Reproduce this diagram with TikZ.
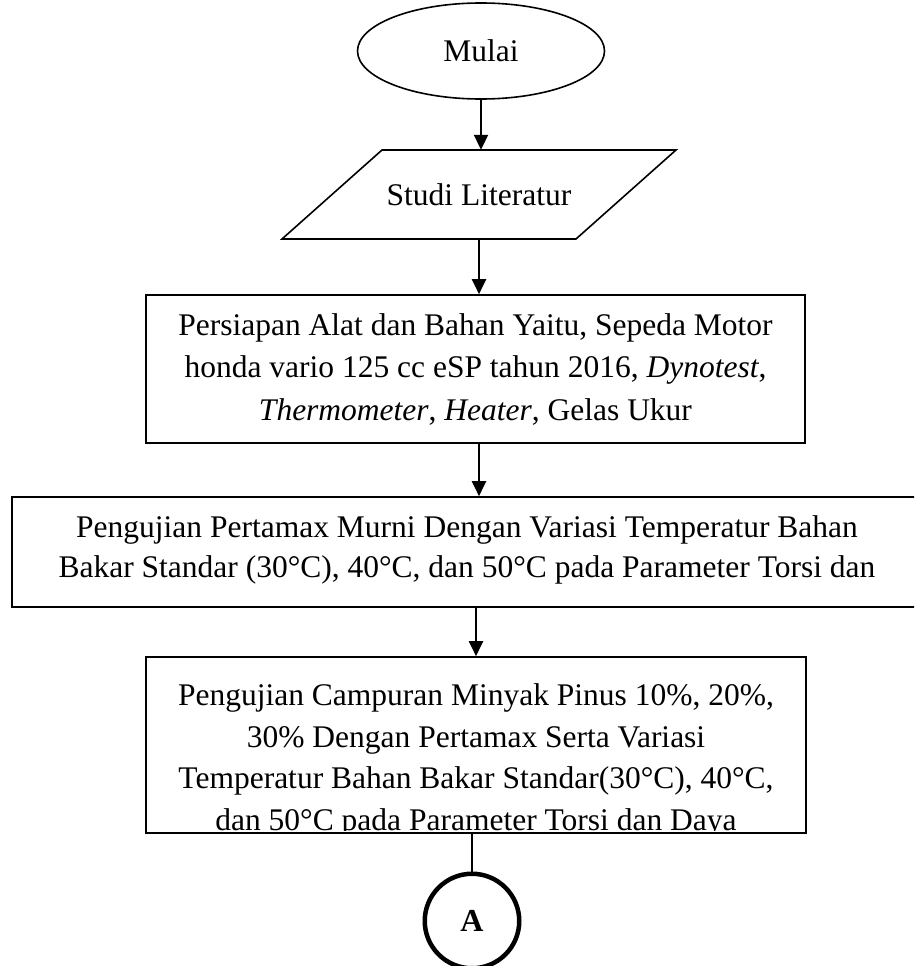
\documentclass[tikz,border=0pt]{standalone}
\usepackage{fontspec}
\setmainfont{Liberation Serif}
\usetikzlibrary{shapes.geometric,arrows.meta}
\begin{document}
\begin{tikzpicture}[x=1pt,y=-1pt,
  txt/.style={font=\fontsize{31.5}{41.5}\selectfont, align=center, inner sep=0pt},
  frame/.style={draw, line width=1.6pt, inner sep=0pt},
  flow/.style={line width=2pt, -{Triangle[length=15pt,width=14pt]}},
  plainline/.style={line width=2pt},
]
\useasboundingbox (0,0) rectangle (914,966);
\clip (0,0) rectangle (914,966);

% start
\node[frame, ellipse, minimum width=247pt, minimum height=96pt, txt] (start) at (481,51) {Mulai};

% studi literatur (parallelogram)
\node[txt, minimum width=200pt, minimum height=89pt] (lit) at (479,194.5) {Studi Literatur};
\draw[line width=1.6pt] (382,150) -- (676,150) -- (576,239) -- (282,239) -- cycle;

% persiapan
\node[frame, minimum width=659pt, minimum height=148pt] (prep) at (475.5,369) {};
\node[txt, font=\fontsize{31.5}{42.5}\selectfont] (prept) at (475.5,369) {Persiapan Alat dan Bahan Yaitu, Sepeda Motor\\ honda vario 125 cc eSP tahun 2016, \textit{Dynotest},\\ \textit{Thermometer}, \textit{Heater}, Gelas Ukur};

% pengujian pertamax murni
\node[frame, minimum width=910pt, minimum height=110pt] (mur) at (467,552) {};
\node[txt, font=\fontsize{31.5}{40}\selectfont] (murt) at (467,549.5) {Pengujian Pertamax Murni Dengan Variasi Temperatur Bahan\\ Bakar Standar (30°C), 40°C, dan 50°C pada Parameter Torsi dan};

% pengujian campuran
\node[frame, minimum width=660pt, minimum height=176pt] (cmp) at (476,745) {};
\begin{scope}
\clip (146,657) rectangle (806,830.5);
\node[txt] (cmpt) at (476,760.5) {Pengujian Campuran Minyak Pinus 10\%, 20\%,\\ 30\% Dengan Pertamax Serta Variasi\\ Temperatur Bahan Bakar Standar(30°C), 40°C,\\ dan 50°C pada Parameter Torsi dan Daya};
\end{scope}

% connector A
\node[circle, draw, line width=4.5pt, minimum size=94.5pt, inner sep=0pt, font=\fontsize{32}{38}\selectfont\bfseries] (A) at (472,921) {A};

% connectors
\draw[flow] (start.south) -- (start.south |- lit.north);
\draw[flow] (lit.south) -- (lit.south |- prep.north);
\draw[flow] (prep.south -| lit.south) -- (lit.south |- mur.north);
\draw[flow] (cmp.north |- mur.south) -- (cmp.north);
\draw[plainline] (A.north |- cmp.south) -- (A.north);
\end{tikzpicture}
\end{document}
